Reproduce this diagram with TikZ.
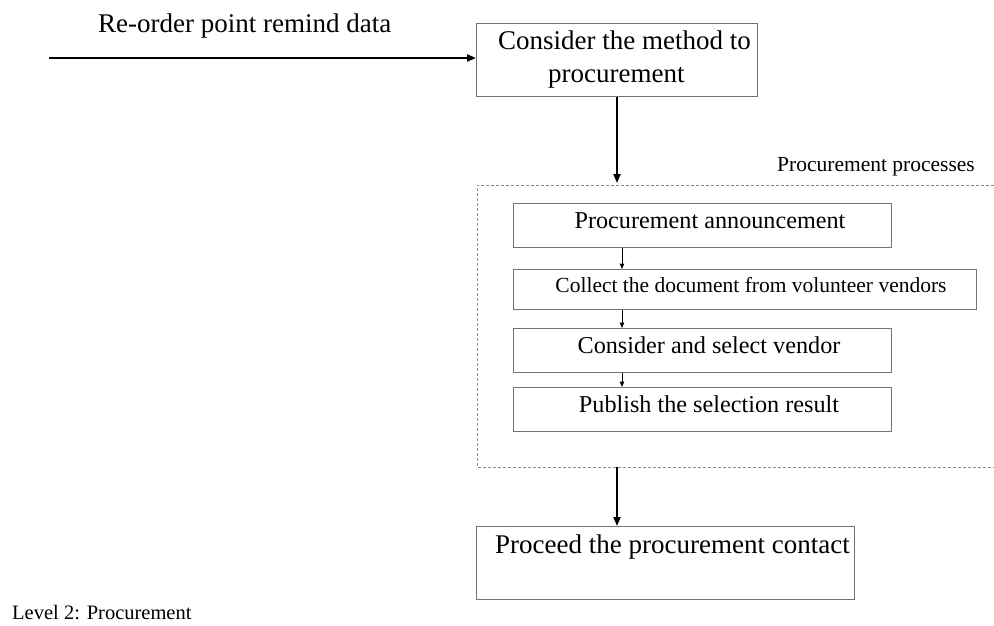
\documentclass[tikz,border=0pt]{standalone}
\usepackage{fontspec}
\setmainfont{Liberation Serif}
\usetikzlibrary{arrows.meta}
\begin{document}
\begin{tikzpicture}[x=1pt,y=-1pt,
  boxline/.style={draw=black!55,line width=1.1pt,rectangle,inner sep=0pt,anchor=north west},
  bigtext/.style={font=\fontsize{27}{32}\selectfont},
  midtext/.style={font=\fontsize{24.2}{28}\selectfont},
  smalltext/.style={font=\fontsize{21.5}{26}\selectfont},
  mainarrow/.style={line width=2pt,-{Triangle[length=9pt,width=7pt]}},
  subarrow/.style={line width=1pt,-{Triangle[length=5.5pt,width=4.5pt]}},
  groupline/.style={draw=black!45,line width=1pt,dash pattern=on 3pt off 2pt}]
\useasboundingbox (0,0) rectangle (994,626);
\fill[white] (0,0) rectangle (994,626);

% group (dashed, open on the right)
\draw[groupline] (994,185) -- (477,185) -- (477,467) -- (994,467);
\node[smalltext,anchor=base west,inner sep=0pt] (grp) at (777,171) {Procurement processes};

% input flow
\coordinate (src) at (49,58);
\node[bigtext,anchor=base west,inner sep=0pt] (inlabel) at (98,33) {Re-order point remind data};

% top box
\node[boxline,minimum width=281pt,minimum height=73pt] (b1) at (476,23) {};
\node[bigtext,anchor=base west,inner sep=0pt] (b1a) at (498,50) {Consider the method to};
\node[bigtext,anchor=base west,inner sep=0pt] (b1b) at (548,82) {procurement};

% sub-process boxes
\node[boxline,minimum width=378pt,minimum height=44pt] (pa) at (513,203) {};
\node[midtext,anchor=base,inner sep=0pt] (pat) at (710,228) {Procurement announcement};
\node[boxline,minimum width=463pt,minimum height=40pt] (pb) at (513,269) {};
\node[smalltext,anchor=base,inner sep=0pt] (pbt) at (751,292) {Collect the document from volunteer vendors};
\node[boxline,minimum width=378pt,minimum height=44pt] (pc) at (513,328) {};
\node[midtext,anchor=base,inner sep=0pt] (pct) at (709,353) {Consider and select vendor};
\node[boxline,minimum width=378pt,minimum height=44pt] (pd) at (513,387) {};
\node[midtext,anchor=base,inner sep=0pt] (pdt) at (709,412) {Publish the selection result};

% bottom box
\node[boxline,minimum width=378pt,minimum height=73pt] (e) at (476,526) {};
\node[bigtext,anchor=base west,inner sep=0pt] (et) at (495,553) {Proceed the procurement contact};

% caption
\node[font=\fontsize{20.5}{24}\selectfont,anchor=base west,inner sep=0pt] (cap) at (12,619) {Level 2: Procurement};

% connectors
\coordinate (gtop) at (617,183);
\coordinate (gbot) at (617,467);
\draw[mainarrow] (src) -- (b1.west |- src);
\draw[mainarrow] (b1.south -| gtop) -- (gtop);
\draw[mainarrow] (gbot) -- (e.north -| gbot);
\draw[subarrow] ([xshift=109pt]pa.south west) -- ([xshift=109pt]pb.north west);
\draw[subarrow] ([xshift=109pt]pb.south west) -- ([xshift=109pt]pc.north west);
\draw[subarrow] ([xshift=109pt]pc.south west) -- ([xshift=109pt]pd.north west);
\end{tikzpicture}
\end{document}
